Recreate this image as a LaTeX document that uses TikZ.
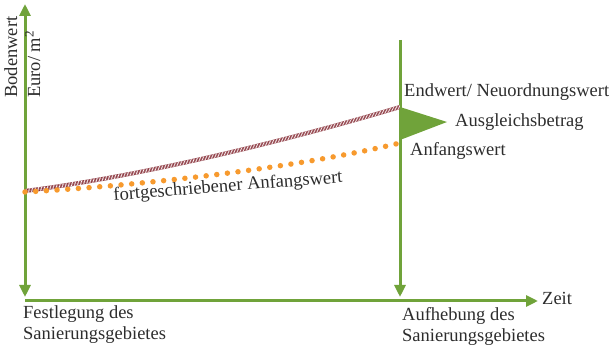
\documentclass[tikz,border=0pt]{standalone}
\usepackage{fontspec}
\setmainfont{Liberation Serif}
\usetikzlibrary{arrows.meta}
\definecolor{axgreen}{RGB}{112,163,58}
\definecolor{dotorange}{RGB}{247,154,46}
\definecolor{hatchred}{RGB}{120,20,30}
\definecolor{txt}{RGB}{45,45,45}
\begin{document}
\begin{tikzpicture}[x=1pt,y=1pt,
  tip/.style={Triangle[length=12pt,width=11pt]},
  axis/.style={draw=axgreen,line width=3pt,-{Triangle[length=12pt,width=11pt]}},
  lbl/.style={text=txt,font=\fontsize{18.5}{21.5}\selectfont,inner sep=0pt},
  hatchline/.style={draw=hatchred,line width=4pt},
  hatchover/.style={draw=white,line width=4pt,dash pattern=on 0.6pt off 0.9pt},
  dotline/.style={draw=dotorange,line width=5.5pt,line cap=round,dash pattern=on 0pt off 10.7pt}]
\useasboundingbox (0,0) rectangle (614,347);
% coordinates
\coordinate (O) at (25,46);
\coordinate (Top) at (25,343);
\coordinate (Bot) at (25,50);
\coordinate (Xend) at (538,46);
\coordinate (Rtop) at (400,307);
\coordinate (Rbot) at (400,50);
\coordinate (A) at (25,156);
\coordinate (E) at (400,240);
\coordinate (B) at (25,155);
\coordinate (F) at (400,204);
% axes
\draw[draw=axgreen,line width=3pt,{Triangle[length=12pt,width=11pt]}-{Triangle[length=12pt,width=11pt]}] (Bot) -- (Top);
\draw[axis] (O) -- (Xend);
\draw[axis] (Rtop) -- (Rbot);
% curves
\draw[hatchline] (A) .. controls (150,172) and (300,210) .. (E);
\draw[hatchover] (A) .. controls (150,172) and (300,210) .. (E);
\draw[dotline] (B) .. controls (150,162) and (300,180) .. (F);
% triangle
\coordinate (T1) at (400,240);
\coordinate (T2) at (400,207);
\coordinate (T3) at (447,225);
\fill[axgreen] (T1) -- (T3) -- (T2) -- cycle;
% labels
\node[lbl,rotate=90,anchor=base west] (bw) at (17,249) {Bodenwert};
\node[lbl,rotate=90,anchor=base west] (eu) at (40,249) {Euro/ m\textsuperscript{2}};
\node[lbl,anchor=base west] (ew) at (404,250) {Endwert/ Neuordnungswert};
\node[lbl,anchor=base west] (ag) at (455,220) {Ausgleichsbetrag};
\node[lbl,anchor=base west] (an) at (410,191) {Anfangswert};
\node[lbl,rotate=4.5] (fa) at (228,160) {fortgeschriebener Anfangswert};
\node[lbl,anchor=base west] (zt) at (542,42) {Zeit};
\node[lbl,anchor=north west,align=left] (fs) at (23,42) {Festlegung des\\Sanierungsgebietes};
\node[lbl,anchor=north west,align=left] (ah) at (402,40) {Aufhebung des\\Sanierungsgebietes};
\end{tikzpicture}
\end{document}
